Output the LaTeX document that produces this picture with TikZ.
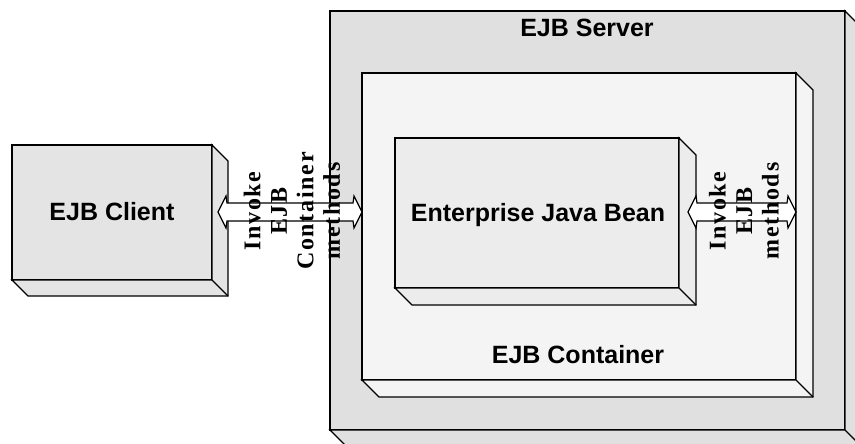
\documentclass[tikz,border=0pt]{standalone}
\usepackage{fontspec}
\setmainfont{Liberation Sans}
\newfontfamily\callfont[LetterSpace=7]{Liberation Serif}
\usetikzlibrary{calc}

\definecolor{servergray}{HTML}{E0E0E0}
\definecolor{clientgray}{HTML}{E4E4E4}
\definecolor{containergray}{HTML}{F4F4F4}
\definecolor{beangray}{HTML}{ECECEC}

\tikzset{
  face/.style={draw=black, line width=1.3pt, line join=miter, outer sep=0pt, inner sep=0pt},
  boxtitle/.style={font=\fontsize{25}{29}\selectfont\bfseries, anchor=base, inner sep=0pt},
  calltext/.style={font=\callfont\fontsize{24}{26.5}\selectfont\bfseries, rotate=90, align=center, inner sep=0pt},
  pipe/.style={draw=black, line width=1.2pt, fill=white, line join=miter},
}

% 3-D side and bottom faces behind a box node: #1 node, #2 depth, #3 fill
\newcommand\extrude[3]{%
  \filldraw[face, fill=#3] (#1.north east) -- ++(#2,#2)
     -- ($(#1.south east)+(#2,#2)$) -- ($(#1.south west)+(#2,#2)$)
     -- (#1.south west) -- (#1.south east) -- cycle;
  \draw[face] (#1.south east) -- ++(#2,#2);
}

% hollow double-headed pipe between two coordinates on one level
\newcommand\pipe[2]{%
  \filldraw[pipe] ($(#1)+(9,-9)$) -- ($(#2)+(-9,-9)$) -- ($(#2)+(-8,-16)$)
     -- (#2) -- ($(#2)+(-8,16)$) -- ($(#2)+(-9,9)$) -- ($(#1)+(9,9)$)
     -- ($(#1)+(8,16)$) -- (#1) -- ($(#1)+(8,-16)$) -- cycle;
}

\begin{document}
\begin{tikzpicture}[x=1pt,y=-1pt]
\useasboundingbox (0,0) rectangle (855,444);
\clip (0,0) rectangle (855,444);

% server
\node[face, fill=servergray, minimum width=515pt, minimum height=419pt] (server) at (587.5,220.5) {};
\extrude{server}{16}{servergray}
\node[boxtitle] (servertitle) at (587,37) {EJB Server};

% container
\node[face, fill=containergray, minimum width=434pt, minimum height=307pt] (container) at (579,226.5) {};
\extrude{container}{17}{containergray}
\node[boxtitle] (containertitle) at (578,363) {EJB Container};

% bean
\node[face, fill=beangray, minimum width=284pt, minimum height=150pt] (bean) at (537,213) {};
\extrude{bean}{17}{beangray}
\node[boxtitle] (beantitle) at (538,221) {Enterprise Java Bean};

% client
\node[face, fill=clientgray, minimum width=200pt, minimum height=135pt] (client) at (112,212.5) {};
\extrude{client}{16}{clientgray}
\node[boxtitle] (clienttitle) at (112,220) {EJB Client};

% calls
\coordinate (c1) at (218,212);
\coordinate (c2) at ($(container.west)+(0,-14.5)$);
\pipe{c1}{c2}
\node[calltext] (clientcall) at (292,211) {Invoke\\EJB\\Container\\methods};

\coordinate (b1) at (688,212);
\coordinate (b2) at ($(container.east)+(0,-14.5)$);
\pipe{b1}{b2}
\node[calltext] (beancall) at (744,211) {Invoke\\EJB\\methods};

\end{tikzpicture}
\end{document}
